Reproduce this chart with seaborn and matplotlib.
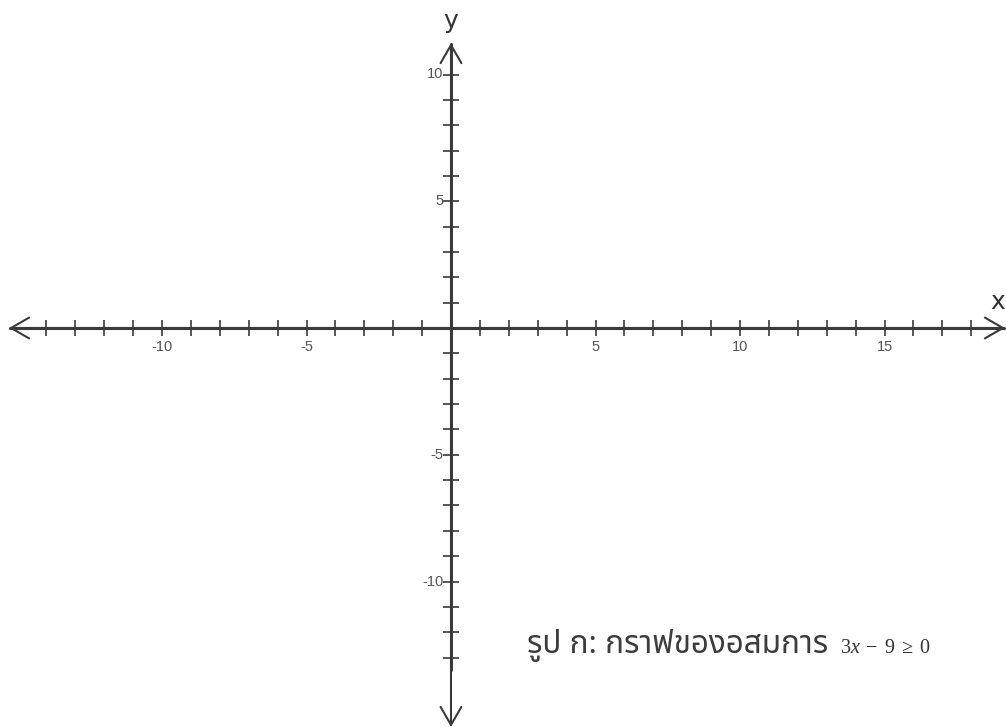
import matplotlib
matplotlib.use("Agg")
import matplotlib.pyplot as plt
import seaborn as sns
import pandas as pd

# Tick positions along each axis and the labelled subset
x_ticks = list(range(-14, 19))
y_ticks = list(range(-13, 11))
x_labeled = [-10, -5, 5, 10, 15]
y_labeled = [-10, -5, 5, 10]
x_label_text = ["-10", "-5", "5", "10", "15"]
y_label_text = ["-10", "-5", "5", "10"]

caption_thai = "รูป ก: กราฟของอสมการ"
caption_math = r"$3x\;-\;9\;\geq\;0$"

sns.set_theme(style="white")
plt.rcParams["font.family"] = ["DejaVu Sans"]
plt.rcParams["mathtext.fontset"] = "custom"
plt.rcParams["mathtext.rm"] = "Liberation Serif"
plt.rcParams["mathtext.it"] = "Liberation Serif:italic"

W, H = 1006, 727
fig = plt.figure(figsize=(W / 100, H / 100), dpi=100)
ax = fig.add_axes([0, 0, 1, 1])

# pixel geometry of the coordinate plane
ox, oy = 451, 328
ux, uy = 28.9, 25.35
ax.set_xlim(-ox / ux, (W - ox) / ux)
ax.set_ylim(-(H - oy) / uy, oy / uy)
ax.set_axis_off()

axis_color = "#3a3a3a"
x_lo, x_hi = (9 - ox) / ux, (1005 - ox) / ux
y_hi, y_lo = (oy - 43) / uy, -(H - oy) / uy

# axis lines (seaborn line plots)
sns.lineplot(data=pd.DataFrame({"x": [x_lo + 0.05, x_hi - 0.05], "y": [0, 0]}),
             x="x", y="y", ax=ax, color=axis_color, linewidth=2.2, zorder=3)
sns.lineplot(data=pd.DataFrame({"x": [0, 0], "y": [y_hi - 0.05, -13.5]}),
             x="x", y="y", ax=ax, color=axis_color, linewidth=2.2, zorder=3,
             orient="y")

# arrow heads
arrow_style = "<->,head_length=1.3,head_width=0.75"
ax.annotate("", xy=(x_lo, 0), xytext=(x_hi, 0),
            arrowprops=dict(arrowstyle=arrow_style, color=axis_color,
                            lw=1.5, mutation_scale=10, shrinkA=0, shrinkB=0))
ax.annotate("", xy=(0, y_hi), xytext=(0, y_lo),
            arrowprops=dict(arrowstyle=arrow_style, color=axis_color,
                            lw=1.5, mutation_scale=10, shrinkA=0, shrinkB=0))

# tick marks
sns.scatterplot(x=x_ticks, y=[0] * len(x_ticks), ax=ax, marker="|", s=130,
                color=axis_color, linewidth=1.2, zorder=4)
sns.scatterplot(x=[0] * len(y_ticks), y=y_ticks, ax=ax, marker="_", s=120,
                color=axis_color, linewidth=1.2, zorder=4)

tick_font = dict(family=["Liberation Sans Narrow", "Liberation Sans"],
                 size=10.5, color="#555555")
for v, t in zip(x_labeled, x_label_text):
    ax.annotate(t, (v, 0), xytext=(0, -13.7), textcoords="offset points",
                ha="center", va="center", **tick_font)
for v, t in zip(y_labeled, y_label_text):
    ax.annotate(t, (0, v), xytext=(-5.5, 0), textcoords="offset points",
                ha="right", va="center", **tick_font)

# axis names
ax.text((998 - ox) / ux, (oy - 302) / uy, "x", ha="center", va="center",
        fontsize=18, color="#333333")
ax.text((451 - ox) / ux, (oy - 21) / uy, "y", ha="center", va="center",
        fontsize=18, color="#333333")

# caption
thai_family = ["Noto Sans Thai", "Noto Serif Thai", "Loma", "Garuda",
               "Tlwg Typo", "Noto Sans", "DejaVu Sans"]
ax.text((527 - ox) / ux, (oy - 653) / uy, caption_thai, ha="left",
        va="baseline", fontsize=22.7, color="#3c3c3c", family=thai_family)
ax.text((840 - ox) / ux, (oy - 653) / uy, caption_math, ha="left",
        va="baseline", fontsize=14.5, color="#333333")

fig.savefig("out.png", dpi=100)
